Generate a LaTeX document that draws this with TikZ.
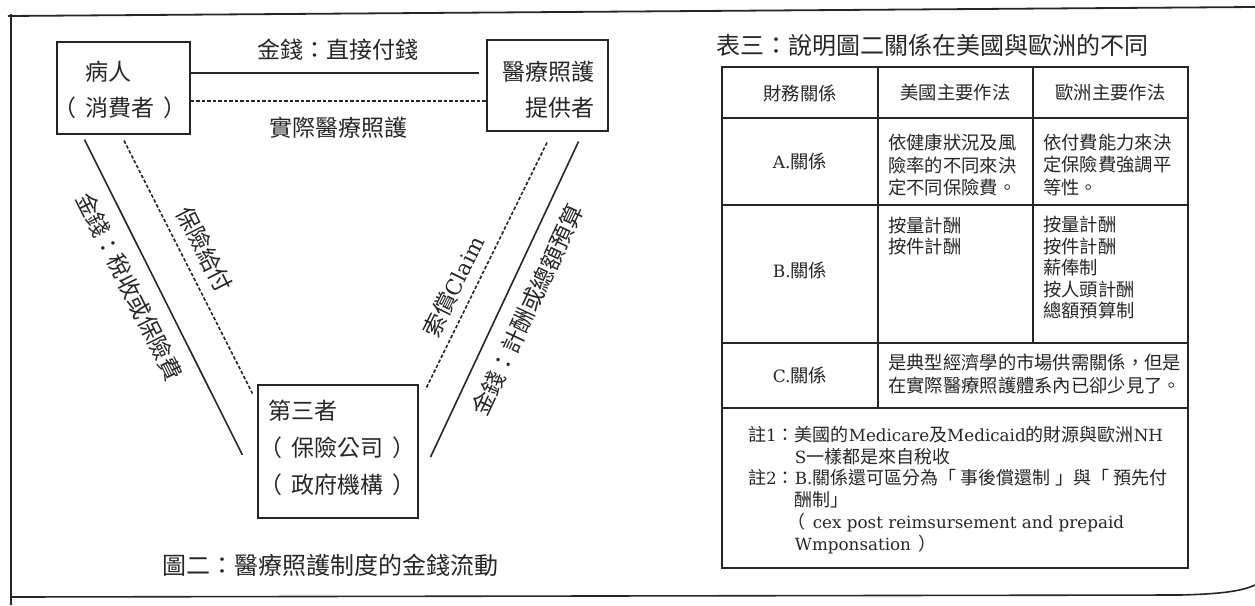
\documentclass[tikz,border=0pt]{standalone}
\usepackage{fontspec}
\setmainfont{Noto Sans CJK TC}
\newfontfamily\lat[Scale=0.93]{DejaVu Serif}
\newcommand{\noteind}{\phantom{註{\lat 1}：}}
\newcommand{\lpar}{\makebox[1em][l]{\hspace*{-0.4em}（}}
\newcommand{\rpar}{\makebox[1em][r]{）\hspace*{-0.4em}}}
\begin{document}
\begin{tikzpicture}[x=1pt,y=-1pt,
  ink/.style={black!85},
  box/.style={draw=black!85, line width=1.1pt, inner sep=0pt},
  big/.style={text=black!85, font=\fontsize{23}{36}\selectfont},
  thirdtext/.style={text=black!85, font=\fontsize{23}{37}\selectfont},
  captext/.style={text=black!85, font=\fontsize{24}{28}\selectfont},
  tab/.style={text=black!85, font=\fontsize{18.3}{22.5}\selectfont, inner sep=0pt},
  money/.style={draw=black!85, line width=1.6pt},
  care/.style={draw=black!85, line width=1.6pt, dash pattern=on 3.5pt off 2pt},
  lab/.style={text=black!85, font=\fontsize{23}{28}\selectfont, inner sep=2pt}
]
\useasboundingbox (0,0) rectangle (1255,605);
% outer frame
\draw[ink, line width=1.8pt] (8,16) -- (1255,7);
\draw[ink, line width=1.6pt] (11,14) -- (11,605);
\draw[ink, line width=1.6pt] (11,597) -- (1180,595) .. controls (1222,594) and (1242,591) .. (1255,585);

% boxes of the diagram
\node[box, minimum width=133, minimum height=92] (pat) at (123.5,88) {};
\node[big, anchor=west, align=left, inner sep=0pt] (patT) at (62,90) {\hspace*{1em}病人\\\lpar 消費者\rpar};
\node[box, minimum width=121, minimum height=91] (prov) at (547.5,85.5) {};
\node[big, anchor=east, align=right, inner sep=0pt] (provT) at (595,90) {醫療照護\\提供者};
\node[box, minimum width=160, minimum height=133] (thr) at (338,451.5) {};
\node[thirdtext, anchor=west, align=left, inner sep=0pt] (thrT) at (268,448) {第三者\\\lpar 保險公司\rpar\\\lpar 政府機構\rpar};

% top connectors
\draw[money] ([shift={(0,-15)}]pat.east) -- ([shift={(-7,-12.5)}]prov.west);
\draw[care] ([shift={(0,13)}]pat.east) -- ([shift={(0,15.5)}]prov.west);
\node[lab] (l1) at (338,50) {金錢：直接付錢};
\node[lab] (l2) at (338,128) {實際醫療照護};

% left connectors
\draw[money] ([shift={(28,5)}]pat.south west) -- node[lab, sloped, below=12pt, pos=0.43] (l3) {金錢：稅收或保險費} ([shift={(-15,3.5)}]thr.west);
\draw[care] ([shift={(0.5,6)}]pat.south) -- node[lab, sloped, above=9pt, pos=0.47] (l4) {保險給付} ([shift={(-5,9)}]thr.north west);

% right connectors
\draw[care] ([shift={(-0.5,11)}]prov.south) -- node[lab, sloped, above=7pt, pos=0.62] (l5) {索償{\lat Claim}} ([shift={(7,5)}]thr.north east);
\draw[money] ([shift={(-30,10)}]prov.south east) -- node[lab, sloped, below=12pt, pos=0.5] (l6) {金錢：計酬或總額預算} ([shift={(12,5.5)}]thr.east);

% caption
\node[captext] (cap2) at (330,565) {圖二：醫療照護制度的金錢流動};

% table title
\node[captext, anchor=west, inner sep=0pt] (cap3) at (716,45) {表三：說明圖二關係在美國與歐洲的不同};

% table frame
\draw[ink, line width=1.5pt] (722,67) rectangle (1188,568);
\draw[ink, line width=1.1pt] (722,118) -- (1188,118);
\draw[ink, line width=1.1pt] (722,205) -- (1188,205);
\draw[ink, line width=1.1pt] (722,343) -- (1188,343);
\draw[ink, line width=1.1pt] (722,408) -- (1188,408);
\draw[ink, line width=1.1pt] (878,67) -- (878,408);
\draw[ink, line width=1.1pt] (1033,67) -- (1033,343);

% header
\node[tab] (h1) at (800,93) {財務關係};
\node[tab] (h2) at (955.5,93) {美國主要作法};
\node[tab] (h3) at (1110.5,93) {歐洲主要作法};

% row A
\node[tab] (ra) at (800,161) {{\lat A.}關係};
\node[tab, anchor=west, align=left] (ra2) at (888,165) {依健康狀況及風\\險率的不同來決\\定不同保險費。};
\node[tab, anchor=west, align=left] (ra3) at (1043,165) {依付費能力來決\\定保險費強調平\\等性。};

% row B
\node[tab] (rb) at (800,270) {{\lat B.}關係};
\node[tab, anchor=west, align=left, font=\fontsize{18.3}{21.5}\selectfont] (rb2) at (888,236) {按量計酬\\按件計酬};
\node[tab, anchor=west, align=left, font=\fontsize{18.3}{21.5}\selectfont] (rb3) at (1043,268) {按量計酬\\按件計酬\\薪俸制\\按人頭計酬\\總額預算制};

% row C
\node[tab] (rc) at (800,375) {{\lat C.}關係};
\node[tab, anchor=west, align=left] (rc2) at (888,374) {是典型經濟學的市場供需關係，但是\\在實際醫療照護體系內已卻少見了。};

% notes
\node[tab, anchor=west, align=left, font=\fontsize{18}{21.8}\selectfont] (notes) at (748,490) {註{\lat 1}：美國的{\lat Medicare}及{\lat Medicaid}的財源與歐洲{\lat NH}\\
\noteind{\lat S}一樣都是來自稅收\\
註{\lat 2}：{\lat B.}關係還可區分為「\hspace{0.25em}事後償還制\hspace{0.25em}」與「\hspace{0.25em}預先付\\
\noteind 酬制」\\
\noteind\lpar{\lat cex post reimsursement and prepaid}\\
\noteind{\lat Wmponsation}\rpar};
\end{tikzpicture}
\end{document}
